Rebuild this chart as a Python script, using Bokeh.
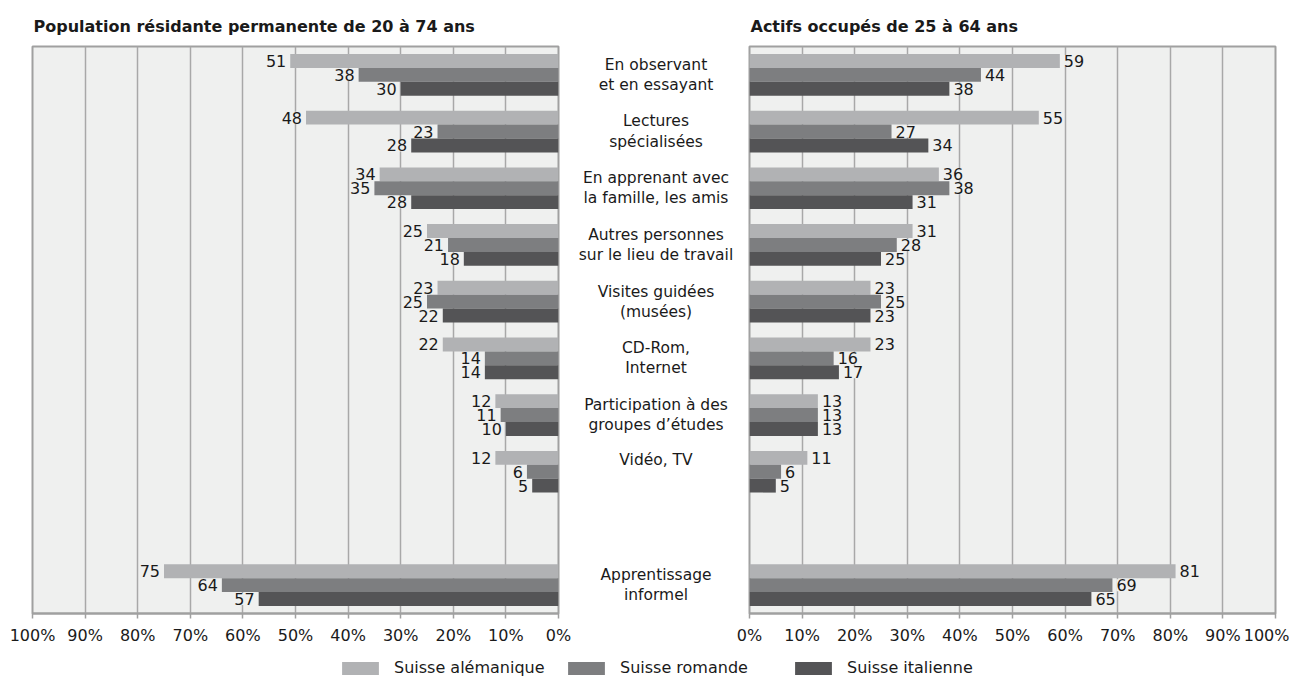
from bokeh.plotting import figure
from bokeh.models import (ColumnDataSource, Range1d, LabelSet, Legend, LegendItem,
                          PrintfTickFormatter, FixedTicker)
from bokeh.layouts import row, column
from bokeh.embed import file_html
from bokeh.resources import INLINE
from bokeh.core.properties import value

# ---------------- data ----------------
categories = ["En observant\net en essayant", "Lectures\nspécialisées",
              "En apprenant avec\nla famille, les amis", "Autres personnes\nsur le lieu de travail",
              "Visites guidées\n(musées)", "CD-Rom,\nInternet",
              "Participation à des\ngroupes d’études", "Vidéo, TV", "Apprentissage\ninformel"]
slots = [0, 1, 2, 3, 4, 5, 6, 7, 9]
series = ["Suisse alémanique", "Suisse romande", "Suisse italienne"]

pop_alem = [51, 48, 34, 25, 23, 22, 12, 12, 75]
pop_rom = [38, 23, 35, 21, 25, 14, 11, 6, 64]
pop_ita = [30, 28, 28, 18, 22, 14, 10, 5, 57]

act_alem = [59, 55, 36, 31, 23, 23, 13, 11, 81]
act_rom = [44, 27, 38, 28, 25, 16, 13, 6, 69]
act_ita = [38, 34, 31, 25, 23, 17, 13, 5, 65]

tick_values = [0, 10, 20, 30, 40, 50, 60, 70, 80, 90, 100]

title_left = "Population résidante permanente de 20 à 74 ans"
title_right = "Actifs occupés de 25 à 64 ans"

# ---------------- style ----------------
FONT = "DejaVu Sans"
FS = "16px"
COLORS = ["#b1b2b4", "#7d7e80", "#545456"]
BG = "#eff0ef"
GRID = "#a8a8a8"
TEXT = "#1a1a1a"
BAR_H = 0.245
OFFS = [-BAR_H, 0.0, BAR_H]

TOP = 46
FRAME_H = 567
BOTTOM = 35
FRAME_W = 526


def make_panel(title, vals, reverse, mb_left, mb_right):
    xr = Range1d(100, 0) if reverse else Range1d(0, 100)
    p = figure(frame_width=FRAME_W, frame_height=FRAME_H, x_range=xr,
               y_range=Range1d(9.5, -0.5), output_backend="svg", toolbar_location=None,
               min_border_left=mb_left, min_border_right=mb_right,
               min_border_top=TOP, min_border_bottom=BOTTOM, title=title)
    p.title.text_font = FONT
    p.title.text_font_size = "16px"
    p.title.text_font_style = "bold"
    p.title.text_color = TEXT
    p.title.align = "left"
    p.title.offset = 1
    p.title.standoff = 22
    p.background_fill_color = BG
    p.border_fill_color = "white"
    p.outline_line_color = "#a0a0a0"
    p.outline_line_width = 2

    p.ygrid.visible = False
    p.xgrid.ticker = FixedTicker(ticks=tick_values)
    p.xgrid.grid_line_color = GRID
    p.xgrid.grid_line_width = 1.5

    p.yaxis.visible = False
    ax = p.xaxis[0]
    ax.ticker = FixedTicker(ticks=tick_values)
    ax.formatter = PrintfTickFormatter(format="%d%%")
    ax.axis_line_color = "#a0a0a0"
    ax.axis_line_width = 2
    ax.major_tick_line_color = "#a0a0a0"
    ax.major_tick_line_width = 1.5
    ax.major_tick_out = 5
    ax.major_tick_in = 0
    ax.minor_tick_line_color = None
    ax.major_label_text_font = FONT
    ax.major_label_text_font_size = FS
    ax.major_label_text_color = TEXT
    ax.major_label_standoff = 7

    for k in range(3):
        ys = [s + OFFS[k] for s in slots]
        src = ColumnDataSource(dict(y=ys, v=vals[k], lab=[str(v) for v in vals[k]]))
        p.hbar(y="y", left=0, right="v", height=BAR_H, source=src,
               fill_color=COLORS[k], line_color=None)
        ls = LabelSet(x="v", y="y", text="lab", source=src,
                      text_align="right" if reverse else "left",
                      x_offset=-4 if reverse else 4, y_offset=0,
                      text_baseline="middle", text_font=value(FONT),
                      text_font_size=FS, text_color=TEXT,
                      background_fill_color=BG, level="underlay")
        p.add_layout(ls)
    return p


left = make_panel(title_left, [pop_alem, pop_rom, pop_ita], True, 32, 18)
right = make_panel(title_right, [act_alem, act_rom, act_ita], False, 14, 14)

# middle labels
mid = figure(frame_width=159, frame_height=FRAME_H, x_range=Range1d(0, 1),
             y_range=left.y_range, output_backend="svg", toolbar_location=None,
             min_border_left=0, min_border_right=0, min_border_top=TOP,
             min_border_bottom=BOTTOM)
mid.axis.visible = False
mid.grid.visible = False
mid.outline_line_color = None
mid.background_fill_color = "white"
yoff = [0 if "\n" in c else -12 for c in categories]
msrc = ColumnDataSource(dict(x=[0.5] * len(categories), y=slots, t=categories, yo=yoff))
mid.text(x="x", y="y", text="t", source=msrc, y_offset="yo", text_align="center",
         text_baseline="middle", text_font=value(FONT), text_font_size="15.5px",
         text_color=TEXT, text_line_height=1.12)

# legend strip
leg = figure(width=1289, height=30, x_range=Range1d(0, 1), y_range=Range1d(0, 1),
             output_backend="svg", toolbar_location=None, min_border=0)
leg.axis.visible = False
leg.grid.visible = False
leg.outline_line_color = None
leg_x = [337, 563, 790]
for k in range(3):
    # renderer kept outside the visible range; only its legend swatch is seen
    r = leg.quad(left=[5], right=[6], top=[5], bottom=[6], fill_color=COLORS[k], line_color=None)
    lg = Legend(items=[LegendItem(label=series[k], renderers=[r])], location=(leg_x[k], 1),
                glyph_width=46, glyph_height=16, label_standoff=11, padding=0, margin=0,
                border_line_color=None, background_fill_alpha=0,
                label_text_font=FONT, label_text_font_size=FS, label_text_color=TEXT)
    leg.add_layout(lg)

layout = column(row(left, mid, right), leg)
open("out.html", "w").write(file_html(layout, INLINE))
